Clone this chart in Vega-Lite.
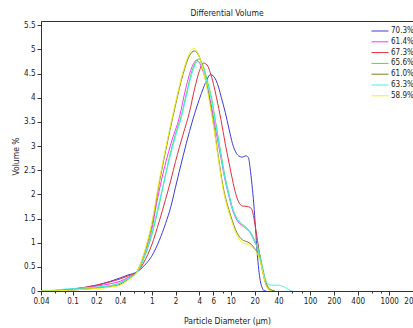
{
  "$schema": "https://vega.github.io/schema/vega-lite/v6.json",
  "width": 372,
  "height": 270,
  "autosize": "none",
  "padding": {"left": 41, "top": 21, "right": 0, "bottom": 37},
  "background": "white",
  "config": {
    "font": "'Liberation Sans Narrow', 'DejaVu Sans Condensed', 'Liberation Sans', sans-serif",
    "view": {"stroke": "#333333", "strokeWidth": 1}
  },
  "title": {"text": "Differential Volume", "fontSize": 8.5, "fontWeight": "normal", "offset": 4, "color": "#222222"},
  "data": {"values": [
    {"s":"70.3%","d":0.04,"v":0},{"s":"70.3%","d":0.06,"v":0.01},{"s":"70.3%","d":0.08,"v":0.02},{"s":"70.3%","d":0.1,"v":0.04},{"s":"70.3%","d":0.15,"v":0.08},{"s":"70.3%","d":0.2,"v":0.12},{"s":"70.3%","d":0.3,"v":0.2},{"s":"70.3%","d":0.4,"v":0.27},{"s":"70.3%","d":0.5,"v":0.33},{"s":"70.3%","d":0.66,"v":0.4},{"s":"70.3%","d":0.8,"v":0.52},{"s":"70.3%","d":1,"v":0.72},{"s":"70.3%","d":1.25,"v":1.05},{"s":"70.3%","d":1.5,"v":1.4},{"s":"70.3%","d":1.75,"v":1.75},{"s":"70.3%","d":2,"v":2.15},{"s":"70.3%","d":2.5,"v":2.8},{"s":"70.3%","d":3,"v":3.3},{"s":"70.3%","d":3.5,"v":3.68},{"s":"70.3%","d":4,"v":3.97},{"s":"70.3%","d":4.5,"v":4.2},{"s":"70.3%","d":5,"v":4.38},{"s":"70.3%","d":5.5,"v":4.48},{"s":"70.3%","d":6.1,"v":4.44},{"s":"70.3%","d":7,"v":4.22},{"s":"70.3%","d":7.6,"v":4.0},{"s":"70.3%","d":8.5,"v":3.7},{"s":"70.3%","d":9.5,"v":3.35},{"s":"70.3%","d":10.5,"v":3.05},{"s":"70.3%","d":11.5,"v":2.88},{"s":"70.3%","d":12.5,"v":2.8},{"s":"70.3%","d":14,"v":2.77},{"s":"70.3%","d":15.5,"v":2.8},{"s":"70.3%","d":16.7,"v":2.76},{"s":"70.3%","d":17.5,"v":2.55},{"s":"70.3%","d":18.5,"v":2.2},{"s":"70.3%","d":19.5,"v":1.8},{"s":"70.3%","d":20.5,"v":1.3},{"s":"70.3%","d":21.5,"v":0.8},{"s":"70.3%","d":22.5,"v":0.45},{"s":"70.3%","d":23.5,"v":0.22},{"s":"70.3%","d":25,"v":0.06},{"s":"70.3%","d":26,"v":0.01},{"s":"70.3%","d":28,"v":0},

    {"s":"61.4%","d":0.04,"v":0},{"s":"61.4%","d":0.06,"v":0.01},{"s":"61.4%","d":0.08,"v":0.02},{"s":"61.4%","d":0.1,"v":0.04},{"s":"61.4%","d":0.15,"v":0.07},{"s":"61.4%","d":0.2,"v":0.1},{"s":"61.4%","d":0.3,"v":0.15},{"s":"61.4%","d":0.4,"v":0.2},{"s":"61.4%","d":0.5,"v":0.28},{"s":"61.4%","d":0.66,"v":0.4},{"s":"61.4%","d":0.8,"v":0.72},{"s":"61.4%","d":1,"v":1.25},{"s":"61.4%","d":1.15,"v":1.8},{"s":"61.4%","d":1.34,"v":2.32},{"s":"61.4%","d":1.75,"v":3.05},{"s":"61.4%","d":2.24,"v":3.6},{"s":"61.4%","d":2.7,"v":4.2},{"s":"61.4%","d":3.2,"v":4.62},{"s":"61.4%","d":3.7,"v":4.78},{"s":"61.4%","d":4.2,"v":4.66},{"s":"61.4%","d":5,"v":4.25},{"s":"61.4%","d":5.5,"v":3.95},{"s":"61.4%","d":6.5,"v":3.3},{"s":"61.4%","d":7.5,"v":2.75},{"s":"61.4%","d":8.5,"v":2.28},{"s":"61.4%","d":9.5,"v":1.95},{"s":"61.4%","d":10.5,"v":1.68},{"s":"61.4%","d":11.5,"v":1.52},{"s":"61.4%","d":12.5,"v":1.42},{"s":"61.4%","d":14,"v":1.35},{"s":"61.4%","d":16,"v":1.28},{"s":"61.4%","d":18,"v":1.18},{"s":"61.4%","d":20,"v":1.02},{"s":"61.4%","d":22,"v":0.88},{"s":"61.4%","d":24,"v":0.62},{"s":"61.4%","d":26,"v":0.35},{"s":"61.4%","d":28,"v":0.15},{"s":"61.4%","d":30,"v":0.05},{"s":"61.4%","d":33,"v":0.01},{"s":"61.4%","d":36,"v":0},

    {"s":"67.3%","d":0.04,"v":0},{"s":"67.3%","d":0.06,"v":0.01},{"s":"67.3%","d":0.08,"v":0.02},{"s":"67.3%","d":0.1,"v":0.04},{"s":"67.3%","d":0.15,"v":0.08},{"s":"67.3%","d":0.2,"v":0.12},{"s":"67.3%","d":0.3,"v":0.19},{"s":"67.3%","d":0.4,"v":0.25},{"s":"67.3%","d":0.5,"v":0.31},{"s":"67.3%","d":0.66,"v":0.4},{"s":"67.3%","d":0.8,"v":0.6},{"s":"67.3%","d":1,"v":0.95},{"s":"67.3%","d":1.25,"v":1.45},{"s":"67.3%","d":1.5,"v":1.9},{"s":"67.3%","d":1.75,"v":2.3},{"s":"67.3%","d":2,"v":2.68},{"s":"67.3%","d":2.5,"v":3.25},{"s":"67.3%","d":3,"v":3.7},{"s":"67.3%","d":3.5,"v":4.2},{"s":"67.3%","d":4,"v":4.55},{"s":"67.3%","d":4.5,"v":4.72},{"s":"67.3%","d":5,"v":4.68},{"s":"67.3%","d":5.5,"v":4.52},{"s":"67.3%","d":6,"v":4.3},{"s":"67.3%","d":6.6,"v":4.0},{"s":"67.3%","d":7.5,"v":3.55},{"s":"67.3%","d":8.5,"v":3.05},{"s":"67.3%","d":9.5,"v":2.65},{"s":"67.3%","d":10.5,"v":2.3},{"s":"67.3%","d":11.5,"v":2.02},{"s":"67.3%","d":12.5,"v":1.85},{"s":"67.3%","d":14,"v":1.76},{"s":"67.3%","d":16,"v":1.75},{"s":"67.3%","d":17.5,"v":1.73},{"s":"67.3%","d":18.5,"v":1.68},{"s":"67.3%","d":19.5,"v":1.52},{"s":"67.3%","d":21,"v":1.2},{"s":"67.3%","d":22.5,"v":0.88},{"s":"67.3%","d":24,"v":0.6},{"s":"67.3%","d":26,"v":0.3},{"s":"67.3%","d":28,"v":0.12},{"s":"67.3%","d":30,"v":0.04},{"s":"67.3%","d":32,"v":0},

    {"s":"65.6%","d":0.04,"v":0},{"s":"65.6%","d":0.06,"v":0.005},{"s":"65.6%","d":0.08,"v":0.01},{"s":"65.6%","d":0.1,"v":0.03},{"s":"65.6%","d":0.15,"v":0.05},{"s":"65.6%","d":0.2,"v":0.07},{"s":"65.6%","d":0.3,"v":0.11},{"s":"65.6%","d":0.4,"v":0.17},{"s":"65.6%","d":0.5,"v":0.26},{"s":"65.6%","d":0.66,"v":0.4},{"s":"65.6%","d":0.8,"v":0.68},{"s":"65.6%","d":1,"v":1.15},{"s":"65.6%","d":1.25,"v":1.8},{"s":"65.6%","d":1.45,"v":2.3},{"s":"65.6%","d":1.75,"v":2.9},{"s":"65.6%","d":2,"v":3.25},{"s":"65.6%","d":2.36,"v":3.62},{"s":"65.6%","d":2.8,"v":4.15},{"s":"65.6%","d":3.3,"v":4.6},{"s":"65.6%","d":3.9,"v":4.8},{"s":"65.6%","d":4.5,"v":4.65},{"s":"65.6%","d":5,"v":4.38},{"s":"65.6%","d":5.7,"v":4.0},{"s":"65.6%","d":6.5,"v":3.45},{"s":"65.6%","d":7.5,"v":2.85},{"s":"65.6%","d":8.5,"v":2.35},{"s":"65.6%","d":9.5,"v":2.0},{"s":"65.6%","d":10.5,"v":1.72},{"s":"65.6%","d":11.5,"v":1.55},{"s":"65.6%","d":12.5,"v":1.45},{"s":"65.6%","d":14,"v":1.38},{"s":"65.6%","d":16,"v":1.3},{"s":"65.6%","d":18,"v":1.2},{"s":"65.6%","d":20,"v":1.05},{"s":"65.6%","d":22,"v":0.9},{"s":"65.6%","d":24,"v":0.65},{"s":"65.6%","d":26,"v":0.38},{"s":"65.6%","d":28,"v":0.18},{"s":"65.6%","d":30,"v":0.07},{"s":"65.6%","d":33,"v":0.02},{"s":"65.6%","d":36,"v":0},

    {"s":"61.0%","d":0.04,"v":0},{"s":"61.0%","d":0.06,"v":0.005},{"s":"61.0%","d":0.08,"v":0.01},{"s":"61.0%","d":0.1,"v":0.02},{"s":"61.0%","d":0.15,"v":0.04},{"s":"61.0%","d":0.2,"v":0.06},{"s":"61.0%","d":0.3,"v":0.09},{"s":"61.0%","d":0.4,"v":0.14},{"s":"61.0%","d":0.5,"v":0.24},{"s":"61.0%","d":0.66,"v":0.42},{"s":"61.0%","d":0.8,"v":0.76},{"s":"61.0%","d":1,"v":1.35},{"s":"61.0%","d":1.25,"v":2.25},{"s":"61.0%","d":1.5,"v":2.9},{"s":"61.0%","d":2,"v":3.85},{"s":"61.0%","d":2.5,"v":4.5},{"s":"61.0%","d":3,"v":4.87},{"s":"61.0%","d":3.45,"v":4.97},{"s":"61.0%","d":4,"v":4.85},{"s":"61.0%","d":4.5,"v":4.57},{"s":"61.0%","d":5,"v":4.25},{"s":"61.0%","d":5.5,"v":3.88},{"s":"61.0%","d":6,"v":3.5},{"s":"61.0%","d":7,"v":2.75},{"s":"61.0%","d":8,"v":2.15},{"s":"61.0%","d":9,"v":1.8},{"s":"61.0%","d":10,"v":1.55},{"s":"61.0%","d":12,"v":1.2},{"s":"61.0%","d":14,"v":1.06},{"s":"61.0%","d":16,"v":1.02},{"s":"61.0%","d":18,"v":0.97},{"s":"61.0%","d":20,"v":0.88},{"s":"61.0%","d":22,"v":0.77},{"s":"61.0%","d":24,"v":0.58},{"s":"61.0%","d":26,"v":0.33},{"s":"61.0%","d":28,"v":0.14},{"s":"61.0%","d":30,"v":0.05},{"s":"61.0%","d":33,"v":0.01},{"s":"61.0%","d":36,"v":0},

    {"s":"63.3%","d":0.04,"v":0},{"s":"63.3%","d":0.06,"v":0.02},{"s":"63.3%","d":0.08,"v":0.04},{"s":"63.3%","d":0.1,"v":0.05},{"s":"63.3%","d":0.15,"v":0.07},{"s":"63.3%","d":0.2,"v":0.08},{"s":"63.3%","d":0.3,"v":0.11},{"s":"63.3%","d":0.4,"v":0.16},{"s":"63.3%","d":0.5,"v":0.25},{"s":"63.3%","d":0.66,"v":0.4},{"s":"63.3%","d":0.8,"v":0.7},{"s":"63.3%","d":1,"v":1.2},{"s":"63.3%","d":1.25,"v":1.85},{"s":"63.3%","d":1.45,"v":2.3},{"s":"63.3%","d":1.75,"v":2.85},{"s":"63.3%","d":2,"v":3.2},{"s":"63.3%","d":2.36,"v":3.58},{"s":"63.3%","d":2.8,"v":4.1},{"s":"63.3%","d":3.3,"v":4.55},{"s":"63.3%","d":3.85,"v":4.75},{"s":"63.3%","d":4.5,"v":4.6},{"s":"63.3%","d":5,"v":4.32},{"s":"63.3%","d":5.7,"v":3.95},{"s":"63.3%","d":6.5,"v":3.4},{"s":"63.3%","d":7.5,"v":2.8},{"s":"63.3%","d":8.5,"v":2.3},{"s":"63.3%","d":9.5,"v":1.97},{"s":"63.3%","d":10.5,"v":1.7},{"s":"63.3%","d":11.5,"v":1.55},{"s":"63.3%","d":12.5,"v":1.45},{"s":"63.3%","d":14,"v":1.36},{"s":"63.3%","d":16,"v":1.28},{"s":"63.3%","d":18,"v":1.18},{"s":"63.3%","d":20,"v":1.02},{"s":"63.3%","d":22,"v":0.86},{"s":"63.3%","d":24,"v":0.6},{"s":"63.3%","d":26,"v":0.35},{"s":"63.3%","d":28,"v":0.2},{"s":"63.3%","d":30,"v":0.14},{"s":"63.3%","d":33,"v":0.12},{"s":"63.3%","d":36,"v":0.12},{"s":"63.3%","d":40,"v":0.12},{"s":"63.3%","d":45,"v":0.1},{"s":"63.3%","d":50,"v":0.06},{"s":"63.3%","d":55,"v":0.02},{"s":"63.3%","d":60,"v":0},

    {"s":"58.9%","d":0.04,"v":0},{"s":"58.9%","d":0.06,"v":0.005},{"s":"58.9%","d":0.08,"v":0.01},{"s":"58.9%","d":0.1,"v":0.02},{"s":"58.9%","d":0.15,"v":0.04},{"s":"58.9%","d":0.2,"v":0.05},{"s":"58.9%","d":0.3,"v":0.08},{"s":"58.9%","d":0.4,"v":0.12},{"s":"58.9%","d":0.5,"v":0.22},{"s":"58.9%","d":0.66,"v":0.42},{"s":"58.9%","d":0.8,"v":0.78},{"s":"58.9%","d":1,"v":1.4},{"s":"58.9%","d":1.25,"v":2.3},{"s":"58.9%","d":1.5,"v":2.95},{"s":"58.9%","d":2,"v":3.9},{"s":"58.9%","d":2.5,"v":4.55},{"s":"58.9%","d":3,"v":4.92},{"s":"58.9%","d":3.4,"v":5.02},{"s":"58.9%","d":4,"v":4.85},{"s":"58.9%","d":4.5,"v":4.55},{"s":"58.9%","d":5,"v":4.2},{"s":"58.9%","d":5.5,"v":3.82},{"s":"58.9%","d":6,"v":3.45},{"s":"58.9%","d":7,"v":2.7},{"s":"58.9%","d":8,"v":2.1},{"s":"58.9%","d":9,"v":1.75},{"s":"58.9%","d":10,"v":1.5},{"s":"58.9%","d":12,"v":1.15},{"s":"58.9%","d":14,"v":1.0},{"s":"58.9%","d":16,"v":0.97},{"s":"58.9%","d":18,"v":0.93},{"s":"58.9%","d":20,"v":0.85},{"s":"58.9%","d":22,"v":0.75},{"s":"58.9%","d":24,"v":0.55},{"s":"58.9%","d":26,"v":0.3},{"s":"58.9%","d":28,"v":0.12},{"s":"58.9%","d":30,"v":0.04},{"s":"58.9%","d":33,"v":0}
  ]},
  "mark": {"type": "line", "strokeWidth": 1, "interpolate": "monotone", "clip": true},
  "encoding": {
    "x": {
      "field": "d", "type": "quantitative",
      "scale": {"type": "log", "domain": [0.04, 2000], "nice": false},
      "axis": {
        "title": "Particle Diameter (µm)",
        "values": [0.04, 0.06, 0.08, 0.1, 0.2, 0.4, 0.6, 0.8, 1, 2, 4, 6, 8, 10, 20, 40, 60, 80, 100, 200, 400, 600, 800, 1000, 2000],
        "labelExpr": "indexof([0.06,0.08,0.6,0.8,8,60,80,600,800], datum.value) >= 0 ? '' : datum.label",
        "format": "~g",
        "grid": false,
        "domainColor": "#333333",
        "tickColor": "#333333",
        "tickSize": {"condition": {"test": "indexof([0.06,0.08,0.6,0.8,8,60,80,600,800], datum.value) >= 0", "value": 2}, "value": 4},
        "labelFontSize": 8,
        "labelColor": "#222222",
        "labelPadding": 2,
        "labelFlush": false,
        "labelOverlap": false,
        "titleFontSize": 8.5,
        "titleFontWeight": "normal",
        "titleColor": "#222222",
        "titlePadding": 11
      }
    },
    "y": {
      "field": "v", "type": "quantitative",
      "scale": {"domain": [0, 5.59], "nice": false, "zero": true},
      "axis": {
        "title": "Volume %",
        "values": [0, 0.5, 1, 1.5, 2, 2.5, 3, 3.5, 4, 4.5, 5, 5.5],
        "format": "~g",
        "grid": false,
        "domainColor": "#333333",
        "tickColor": "#333333",
        "tickSize": 4,
        "labelFontSize": 8,
        "labelColor": "#222222",
        "labelPadding": 2,
        "labelOverlap": false,
        "titleFontSize": 8.5,
        "titleFontWeight": "normal",
        "titleColor": "#222222",
        "titlePadding": 3
      }
    },
    "color": {
      "field": "s", "type": "nominal",
      "scale": {
        "domain": ["70.3%", "61.4%", "67.3%", "65.6%", "61.0%", "63.3%", "58.9%"],
        "range": ["#3c3cd8", "#ff33ff", "#e0303c", "#44e044", "#7d7d20", "#44f0f0", "#f0f020"]
      },
      "legend": {
        "title": null,
        "orient": "none",
        "legendX": 334,
        "legendY": 5,
        "symbolType": "M-2,0H2",
        "symbolSize": 72,
        "symbolStrokeWidth": 1,
        "labelFontSize": 8,
        "labelColor": "#222222",
        "labelOffset": 6,
        "rowPadding": 1.8
      }
    }
  }
}
